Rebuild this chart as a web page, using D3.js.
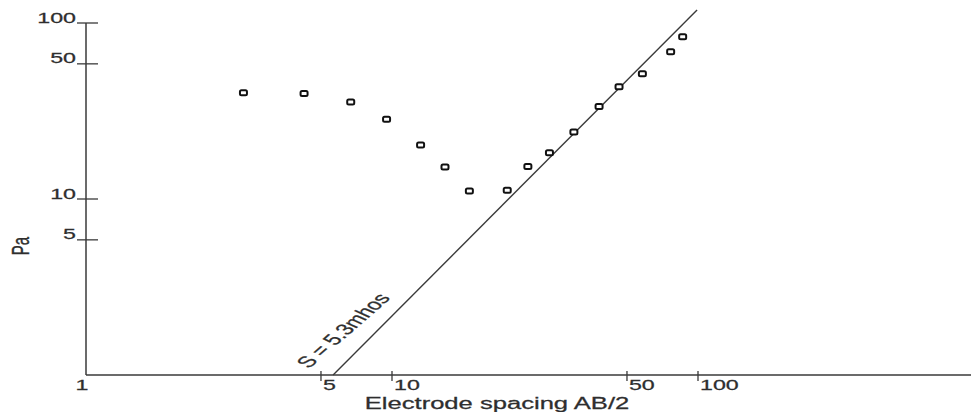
<!DOCTYPE html>
<html>
<head>
<meta charset="utf-8">
<script src="https://cdn.jsdelivr.net/npm/d3@7/dist/d3.min.js"></script>
<style>
  html, body { margin: 0; padding: 0; background: #fff; }
  svg { display: block; }
  text { font-family: "Liberation Sans", Arial, sans-serif; fill: #2e2e2e; stroke: #2e2e2e; stroke-width: 0.25; }
</style>
</head>
<body>
<div id="chart"></div>
<script>
// sounding data: electrode spacing AB/2 vs apparent resistivity
const spacing = [3.27, 5.16, 7.33, 9.6, 12.4, 14.9, 17.9, 23.8, 27.8, 32.7, 39.3, 47.5, 55.2, 65.8, 81.4, 89.1];
const rhoA    = [40.2, 39.7, 35.6, 28.4, 20.3, 15.2, 11.1, 11.2, 15.3, 18.3, 24.0, 33.5, 43.5, 51.5, 68.7, 83.6];

// conductance line S = 5.3mhos (end points)
const sLineX = [6.42, 99.3];
const sLineY = [1, 118.7];
const sLabel = "S = 5.3mhos";

// tick marks (the "5" marks sit a little past log 5 in the original)
const xTickVals = [5.86, 10, 58.6, 100];
const xTickText = ["5", "10", "50", "100"];
const yTickVals = [5.86, 10, 58.6, 100];
const yTickText = ["5", "10", "50", "100"];

const W = 971, H = 412;
const stretch = 1.6;   // the original picture is stretched sideways
const ink = "#3a3a3a";

const svg = d3.select("#chart").append("svg")
  .attr("width", W)
  .attr("height", H);

const x = d3.scaleLog().domain([1, 100]).range([86, 698]);
const y = d3.scaleLog().domain([1, 100]).range([375, 23]);

// axes lines
svg.append("line")
  .attr("x1", x(1)).attr("x2", W)
  .attr("y1", y(1)).attr("y2", y(1))
  .attr("stroke", ink).attr("stroke-width", 1.5);
svg.append("line")
  .attr("x1", x(1)).attr("x2", x(1))
  .attr("y1", y(100)).attr("y2", y(1))
  .attr("stroke", ink).attr("stroke-width", 1.5);

// x ticks
let xt = svg.append("g").selectAll("g")
  .data(xTickVals)
  .enter().append("g");
xt.append("line")
  .attr("x1", d => x(d)).attr("x2", d => x(d))
  .attr("y1", y(1) - 4).attr("y2", y(1) + 6)
  .attr("stroke", ink).attr("stroke-width", 1.3);
xt.append("text")
  .attr("transform", d => "translate(" + (x(d) + 2) + "," + (y(1) + 15) + ") scale(" + stretch + ",1)")
  .attr("font-size", 14.5)
  .text((d, i) => xTickText[i]);

// y ticks
let yt = svg.append("g").selectAll("g")
  .data(yTickVals)
  .enter().append("g");
yt.append("line")
  .attr("x1", x(1) - 9).attr("x2", x(1) + 12)
  .attr("y1", d => y(d)).attr("y2", d => y(d))
  .attr("stroke", ink).attr("stroke-width", 1.3);
yt.append("text")
  .attr("transform", d => "translate(" + (x(1) - 10) + "," + (y(d) - 0.5) + ") scale(" + stretch + ",1)")
  .attr("text-anchor", "end")
  .attr("font-size", 14.5)
  .text((d, i) => yTickText[i]);

// origin label
svg.append("text")
  .attr("transform", "translate(" + (x(1) - 4) + "," + (y(1) + 15) + ") scale(" + stretch + ",1)")
  .attr("text-anchor", "middle")
  .attr("font-size", 14.5)
  .text("1");

// axis titles
svg.append("text")
  .attr("transform", "translate(497," + (y(1) + 34) + ") scale(" + stretch + ",1)")
  .attr("text-anchor", "middle")
  .attr("font-size", 16)
  .text("Electrode spacing AB/2");

svg.append("text")
  .attr("transform", "translate(29,246) scale(" + stretch + ",1) rotate(-90)")
  .attr("text-anchor", "middle")
  .attr("font-size", 15)
  .text("Pa");

// S line
svg.append("line")
  .attr("x1", x(sLineX[0])).attr("y1", y(sLineY[0]))
  .attr("x2", x(sLineX[1])).attr("y2", y(sLineY[1]))
  .attr("stroke", ink).attr("stroke-width", 1.4);

svg.append("text")
  .attr("transform", "translate(309,369) scale(" + stretch + ",1) rotate(-54)")
  .attr("font-size", 15.5)
  .text(sLabel);

// data markers
svg.append("g").selectAll("rect")
  .data(spacing)
  .enter().append("rect")
  .attr("x", d => x(d) - 3.5)
  .attr("y", (d, i) => y(rhoA[i]) - 2.5)
  .attr("width", 7)
  .attr("height", 5)
  .attr("rx", 1.5)
  .attr("fill", "#fff")
  .attr("stroke", "#111")
  .attr("stroke-width", 2);
</script>
</body>
</html>
